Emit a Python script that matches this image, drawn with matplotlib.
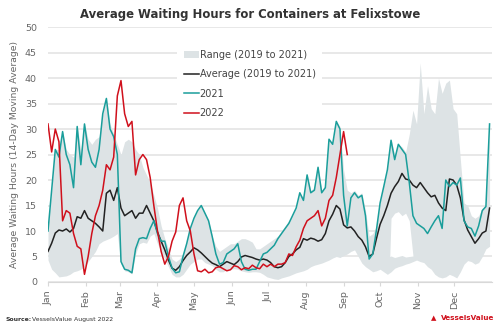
import matplotlib.pyplot as plt
from matplotlib.patches import Patch
from matplotlib.lines import Line2D
import numpy as np

# every 3rd day of the year
days = np.arange(0, 364, 3)

month_pos = [0, 31, 59, 90, 120, 151, 181, 212, 243, 273, 304, 334]
month_lbl = ['Jan', 'Feb', 'Mar', 'Apr', 'May', 'Jun',
             'Jul', 'Aug', 'Sep', 'Oct', 'Nov', 'Dec']

y2021 = [10, 18, 26, 24.5, 29.5, 25, 23, 18.5, 30.5, 23,
         31, 26, 23.5, 22.5, 26, 33, 36, 30, 28.5, 25,
         4, 2.5, 2.3, 1.8, 6.5, 8.5, 8.7, 8.5, 10.5, 12,
         9.5, 8, 8, 5, 2.7, 1.8, 2, 5, 7.5, 10.5,
         12.5, 14, 15, 13.5, 12, 8.9, 5.5, 3.5, 3.8, 5.5,
         6, 6.5, 7.5, 4, 2.5, 2.3, 2.5, 2.5, 4, 5.5,
         5.8, 6.5, 7.2, 8.5, 9.5, 10.5, 11.5, 13, 14.5, 17.5,
         16, 21, 17.5, 18, 22.5, 17.5, 18.5, 28, 27, 31.5,
         30, 17, 11, 16.5, 17.5, 16.5, 17, 13, 4.5, 5.5,
         10.2, 15.5, 18.7, 22, 27.8, 24, 27, 26, 25, 19.5,
         13, 11.5, 11, 10.5, 9.5, 10.8, 12, 13, 10.5, 20,
         18.7, 19.5, 19, 20.4, 12, 10.8, 10.5, 9, 11, 14,
         14.8, 31]

avg = [6, 7.6, 9.6, 10.2, 10, 10.4, 9.8, 10.5, 12.8, 12.5,
       14, 12.5, 12, 11.5, 10.8, 10, 17.4, 18, 16, 18.5,
       14.5, 13, 13.5, 14, 12.5, 13.5, 13.5, 15, 13.5, 12,
       9.8, 8, 6.3, 4.3, 2.7, 2.3, 3, 4.2, 5.2, 5.9,
       6.7, 6.3, 5.7, 5, 4.3, 3.7, 3.4, 3, 3.5, 4,
       3.7, 3.4, 4, 4.9, 5.2, 5, 4.8, 4.5, 4.3, 4.5,
       4.3, 3.8, 3, 2.8, 3, 3.8, 5, 5.5, 6.3, 6.8,
       8.5, 8.2, 8.6, 8.4, 8, 8.3, 9.5, 12, 13.3, 15,
       14.3, 11.2, 10.6, 10.8, 10, 8.9, 8.2, 6.9, 5, 5.5,
       8.5, 11.3, 13, 15, 17.4, 18.7, 19.7, 21.3, 20.2, 20,
       19, 18.5, 19.5, 18.5, 17.5, 16.7, 17, 15.5, 14.5, 14,
       20.2, 20, 19, 16.5, 12.2, 10.2, 8.9, 7.6, 8.5, 9.6,
       10, 14.5]

y2022 = [31, 25.5, 30, 27.5, 12, 14, 13.5, 9.5, 7, 6.5,
         1.5, 5, 9.5, 13, 15, 18, 23, 22, 24.5, 36.5,
         39.5, 33, 30.5, 31.5, 21, 24, 25, 24, 20.5, 15,
         10, 6, 3.5, 5, 8, 9.8, 15, 16.5, 12, 10,
         5.5, 2.2, 2, 2.5, 1.8, 2, 2.8, 3, 2.6, 2.2,
         2.4, 3.2, 3, 2.4, 2.8, 2.6, 3.3, 2.8, 2.6, 3.5,
         3, 3.5, 3, 3.5, 3.5, 3.8, 5.5, 5.2, 6.9, 8.2,
         10.5, 12, 12.5, 13, 14, 11, 12.5, 16, 17, 20.5,
         25, 29.5, 25]

range_hi = [11, 18, 26, 26, 29.5, 26, 25, 24.5, 30.5, 26,
            31, 28, 27, 28, 28.5, 33, 36, 31, 29, 27,
            25, 27.5, 28, 27.5, 26, 25, 22.5, 21, 19.5, 17,
            14.5, 11, 8.5, 6.5, 4.5, 4, 4.5, 5.5, 8, 10.5,
            12.5, 14, 15, 13.5, 12, 9, 7, 6, 6.5, 7,
            7.5, 7.5, 8, 8.5, 8.5, 8.2, 7.8, 6.5, 6.5, 7,
            7.5, 8, 8.5, 9, 10, 11, 12, 13, 14.5, 17.5,
            16.5, 21, 18, 18.5, 22.5, 18, 19, 28, 27, 31.5,
            30.5, 22, 18, 17.5, 18, 17, 17.5, 14, 9, 9.5,
            11, 15.5, 19, 22, 28, 25, 27, 26.5, 25.5, 29,
            33.7, 31, 43, 33, 38.5, 34, 33, 40, 37, 39,
            39.6, 34, 33, 24, 15.5, 15, 13, 12.5, 13, 14.5,
            15, 31]

range_lo = [4.3, 2.5, 1.8, 1, 1.1, 1.2, 1.5, 2, 2.2, 2.5,
            3, 4, 5, 6, 7.5, 8, 8.3, 8.6, 9, 9.5,
            3.5, 2.2, 2, 1.6, 5.5, 7.5, 7.8, 7.6, 9, 9.5,
            7.5, 6, 4.5, 3, 1.5, 1, 1, 1.5, 2.5, 3.5,
            4, 4.5, 4.5, 3.8, 3.5, 3.2, 2.5, 2, 2, 2.5,
            2.5, 2.6, 2.5, 2.2, 2, 1.9, 2, 2, 1.9, 1.5,
            1, 0.8, 0.6, 0.5, 0.8, 1, 1.2, 1.5, 1.8, 2,
            2.2, 2.5, 3, 3.3, 3.5, 3.7, 4, 4.3, 4.7, 5,
            4.8, 5.2, 5.5, 6, 6.3, 5, 3.7, 3, 2.5, 2,
            2.2, 2.5, 2, 1.5, 2, 2.7, 3, 3.2, 3.5, 3.7,
            4, 4.3, 4, 3.8, 3, 2.5, 1.5, 1, 0.8, 1,
            1.5, 1.2, 0.8, 2, 3.5, 4.2, 4, 3.5, 3.8, 5,
            6.5, 7]

# gap inside the range band in October
hole_days = [281, 282, 285, 288, 291, 294, 297, 300]
hole_hi = [5.2, 12.5, 13.5, 13.8, 13, 13.5, 12, 5.2]
hole_lo = [5, 5.1, 4.8, 5, 5.2, 4.9, 5, 5.1]

grey = '#dde3e5'
teal = '#1a9e9b'
red = '#d0101c'
black = '#222222'
txt = '#666666'

fig = plt.figure(figsize=(5, 3.26), dpi=100)
ax = fig.add_axes([0.096, 0.135, 0.888, 0.782])

ax.fill_between(days, range_lo, range_hi, color=grey, lw=0, zorder=1)
ax.fill_between(hole_days, hole_lo, hole_hi, color='white', lw=0, zorder=1.1)
ax.plot(days, avg, color=black, lw=1.1, zorder=3)
ax.plot(days, y2021, color=teal, lw=1.1, zorder=4)
ax.plot(days[:len(y2022)], y2022, color=red, lw=1.1, zorder=5)

ax.set_xlim(0, 365)
ax.set_ylim(0, 50)
ax.set_yticks(range(0, 51, 5))
ax.set_xticks(month_pos)
ax.set_xticklabels(month_lbl, rotation=90)
ax.set_axisbelow(True)
ax.yaxis.grid(True, color='#e4e4e4', lw=1.2)
for s in ['top', 'right', 'left']:
    ax.spines[s].set_visible(False)
ax.spines['bottom'].set_color('#d8d8d8')
ax.tick_params(axis='y', length=0, labelsize=6.8, labelcolor=txt, pad=8)
ax.tick_params(axis='x', length=3, color='#d8d8d8', labelsize=6.8,
               labelcolor=txt, pad=3)
ax.set_ylabel('Average Waiting Hours (14-Day Moving Average)', fontsize=6.7,
              color=txt, labelpad=4)

handles = [Patch(facecolor=grey, edgecolor='none'),
           Line2D([], [], color=black, lw=1.1),
           Line2D([], [], color=teal, lw=1.1),
           Line2D([], [], color=red, lw=1.1)]
labels = ['Range (2019 to 2021)', 'Average (2019 to 2021)', '2021', '2022']
leg = ax.legend(handles, labels, loc='upper left', bbox_to_anchor=(0.28, 0.955),
                fontsize=7.0, frameon=True, facecolor='white', edgecolor='none',
                framealpha=1, handlelength=1.5, handletextpad=0.1,
                labelspacing=0.95, borderpad=0.7, fancybox=False)
leg.set_zorder(6)
for t in leg.get_texts():
    t.set_color('#444444')

fig.text(0.5, 0.955, 'Average Waiting Hours for Containers at Felixstowe',
         ha='center', va='center', fontsize=8.4, fontweight='bold', color='#333333')

fig.text(0.01, 0.015, 'Source:', fontsize=4.4, fontweight='bold', color='#333333')
fig.text(0.063, 0.015, 'VesselsValue August 2022', fontsize=4.4, color='#333333')
fig.text(0.868, 0.025, '\u25B2', fontsize=5, color=red, ha='center', va='center')
fig.text(0.882, 0.025, 'VesselsValue', fontsize=5.2, fontweight='bold', color=red,
         va='center')

fig.savefig('out.png', dpi=100)
